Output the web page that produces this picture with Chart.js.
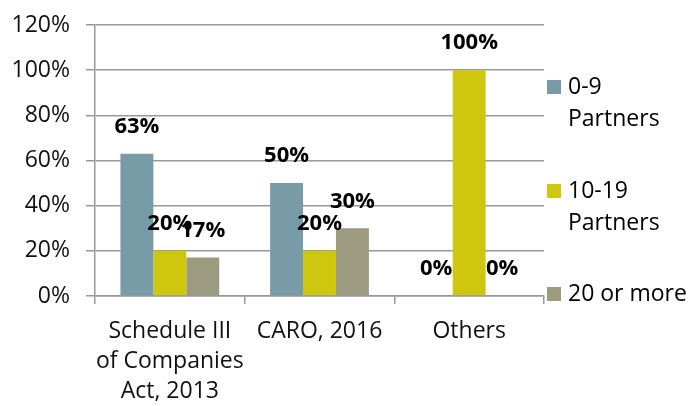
<!DOCTYPE html>
<html>
<head>
<meta charset="utf-8">
<script src="https://cdn.jsdelivr.net/npm/chart.js@4/dist/chart.umd.min.js"></script>
<style>
html,body{margin:0;padding:0;background:#fff;}
#wrap{width:692px;height:406px;position:relative;}
</style>
</head>
<body>
<div id="wrap"><canvas id="c"></canvas></div>
<script>
const categories = [["Schedule III","of Companies","Act, 2013"], "CARO, 2016", "Others"];
const seriesNames = [["0-9","Partners"], ["10-19","Partners"], ["20 or more"]];
const partners0to9 = [63, 50, 0];
const partners10to19 = [20, 20, 100];
const partners20plus = [17, 30, 0];
const yTicks = [0, 20, 40, 60, 80, 100, 120];

const colors = ["#779BA7", "#CFC70F", "#9C9A7F"];
const FONT = "'Open Sans', 'DejaVu Sans', sans-serif";

const labelPlugin = {
  id: 'valueLabels',
  afterDatasetsDraw(chart) {
    const ctx = chart.ctx;
    ctx.save();
    ctx.font = "bold 22px " + FONT;
    ctx.fillStyle = "#000";
    ctx.textAlign = "center";
    ctx.textBaseline = "middle";
    chart.data.datasets.forEach((ds, di) => {
      const meta = chart.getDatasetMeta(di);
      meta.data.forEach((el, i) => {
        ctx.fillText(ds.data[i] + "%", el.x, el.y - 27);
      });
    });
    ctx.restore();
  }
};

const legendPlugin = {
  id: 'customLegend',
  afterDraw(chart) {
    const ctx = chart.ctx;
    const startY = [87, 191, 294];
    ctx.save();
    ctx.font = "23px " + FONT;
    ctx.textBaseline = "middle";
    ctx.textAlign = "left";
    chart.data.datasets.forEach((ds, di) => {
      const y = startY[di];
      ctx.fillStyle = ds.backgroundColor;
      ctx.fillRect(547, y - 7, 14, 14);
      ctx.fillStyle = "#000";
      seriesNames[di].forEach((line, li) => {
        ctx.fillText(line, 568, y + li * 32);
      });
    });
    ctx.restore();
  }
};

new Chart(document.getElementById('c'), {
  type: 'bar',
  data: {
    labels: categories,
    datasets: [
      { label: seriesNames[0].join(' '), data: partners0to9, backgroundColor: colors[0] },
      { label: seriesNames[1].join(' '), data: partners10to19, backgroundColor: colors[1] },
      { label: seriesNames[2].join(' '), data: partners20plus, backgroundColor: colors[2] }
    ]
  },
  options: {
    responsive: true,
    maintainAspectRatio: false,
    animation: false,
    devicePixelRatio: 1,
    datasets: { bar: { categoryPercentage: 0.66, barPercentage: 1.0 } },
    layout: { padding: { top: 25, right: 148, left: 0, bottom: 0 } },
    plugins: { legend: { display: false }, tooltip: { enabled: false } },
    scales: {
      x: {
        grid: { display: true, drawOnChartArea: false, offset: true, color: '#999', lineWidth: 1.5, tickLength: 8 },
        border: { display: true, color: '#999', width: 1.5 },
        ticks: { color: '#111', font: { family: FONT, size: 23, lineHeight: 1.3 }, padding: 13, maxRotation: 0, autoSkip: false },
        afterFit(scale) { scale.height = 110; scale.paddingLeft = 0; scale.paddingRight = 0; }
      },
      y: {
        min: 0, max: 120,
        afterBuildTicks(scale) { scale.ticks = yTicks.map(v => ({ value: v })); },
        grid: { color: '#999', lineWidth: 1.5, tickLength: 9 },
        border: { display: true, color: '#999', width: 1.5 },
        ticks: { color: '#111', font: { family: FONT, size: 23 }, padding: 16, callback: v => v + '%' },
        afterFit(scale) { scale.width = 95; scale.paddingTop = 0; scale.paddingBottom = 0; }
      }
    }
  },
  plugins: [labelPlugin, legendPlugin]
});
</script>
</body>
</html>
